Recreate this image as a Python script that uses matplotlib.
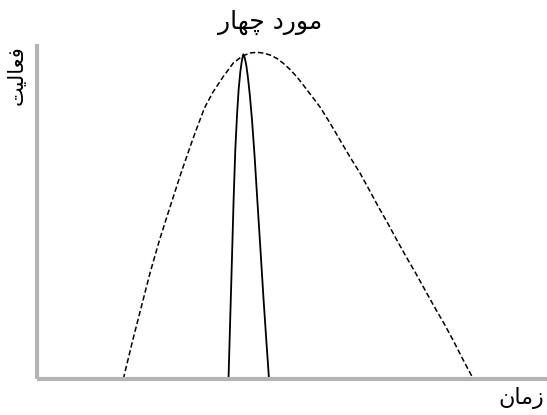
import matplotlib
matplotlib.use("Agg")
import matplotlib.pyplot as plt

# dashed curve (time, activity)
dashed_t = [16.92, 18.78, 20.45, 22.16, 24.02, 26.08, 28.24, 30.49, 31.57, 32.84,
            34.51, 36.47, 38.49, 40.29, 41.76, 43.14, 44.31, 45.69, 47.06, 48.29,
            49.61, 50.92, 52.06, 53.20, 54.31, 55.49, 57.45, 59.41, 61.37, 63.33,
            65.16, 66.96, 68.75, 70.55, 72.41, 74.24, 76.08, 77.94, 79.75, 81.57,
            83.57, 85.55]
dashed_a = [0, 11.64, 21.49, 31.64, 41.49, 51.34, 61.49, 71.34, 75.82, 80.90,
            85.67, 90.15, 94.33, 96.42, 97.31, 97.52, 97.31, 96.72, 95.67, 94.24,
            92.39, 90.24, 88.06, 85.76, 83.58, 81.19, 76.42, 71.34, 66.27, 61.49,
            56.42, 51.34, 46.57, 41.49, 36.42, 31.64, 26.57, 21.49, 16.72, 11.64,
            5.67, 0]

# narrow solid curve
solid_t = [37.55, 37.88, 38.22, 38.55, 38.88, 39.22, 39.53, 39.86, 40.16, 40.45,
           40.75, 41.06, 41.37, 41.73, 42.16, 42.65, 43.20, 43.82, 44.43, 44.96,
           45.49]
solid_a = [0, 17.61, 35.52, 53.43, 68.36, 78.81, 86.27, 91.64, 94.93, 96.93,
           95.82, 93.43, 89.85, 84.78, 77.31, 66.87, 53.43, 38.51, 23.58, 11.64,
           0]

# Persian labels, written in shaped presentation forms (visual order)
title = "\ufead\ufe8e\ufeec\ufb7c \ufea9\ufead\ufeee\ufee3"   # مورد چهار
ylabel = "\ufe96\ufbff\ufedf\ufe8e\ufecc\ufed3"               # فعالیت
xlabel = "\ufee5\ufe8e\ufee3\ufeaf"                           # زمان

W, H = 547, 415
fig = plt.figure(figsize=(W / 100, H / 100), dpi=100)
ax = fig.add_axes([37 / W, 1 - 379 / H, (W - 37) / W, (379 - 44) / H])

ax.plot(dashed_t, dashed_a, color="black", lw=1.1, ls=(0, (3.5, 1.8)),
        solid_joinstyle="round", dash_joinstyle="round")
ax.plot(solid_t, solid_a, color="black", lw=1.3, solid_joinstyle="round")

ax.set_xlim(0, 100)
ax.set_ylim(0, 100)
ax.set_xticks([])
ax.set_yticks([])
for s in ["top", "right"]:
    ax.spines[s].set_visible(False)
for s in ["left", "bottom"]:
    ax.spines[s].set_color("#b4b4b4")
    ax.spines[s].set_linewidth(3)
    ax.spines[s].set_capstyle("butt")

fig.text(270 / W, 1 - 22 / H, title, ha="center", va="center", fontsize=18,
         family="DejaVu Sans")
fig.text(17 / W, 1 - 75 / H, ylabel, ha="center", va="center", rotation=90,
         fontsize=15, family="DejaVu Sans")
fig.text(544 / W, 1 - 398 / H, xlabel, ha="right", va="center", fontsize=16,
         family="DejaVu Sans")

fig.savefig("out.png", dpi=100)
